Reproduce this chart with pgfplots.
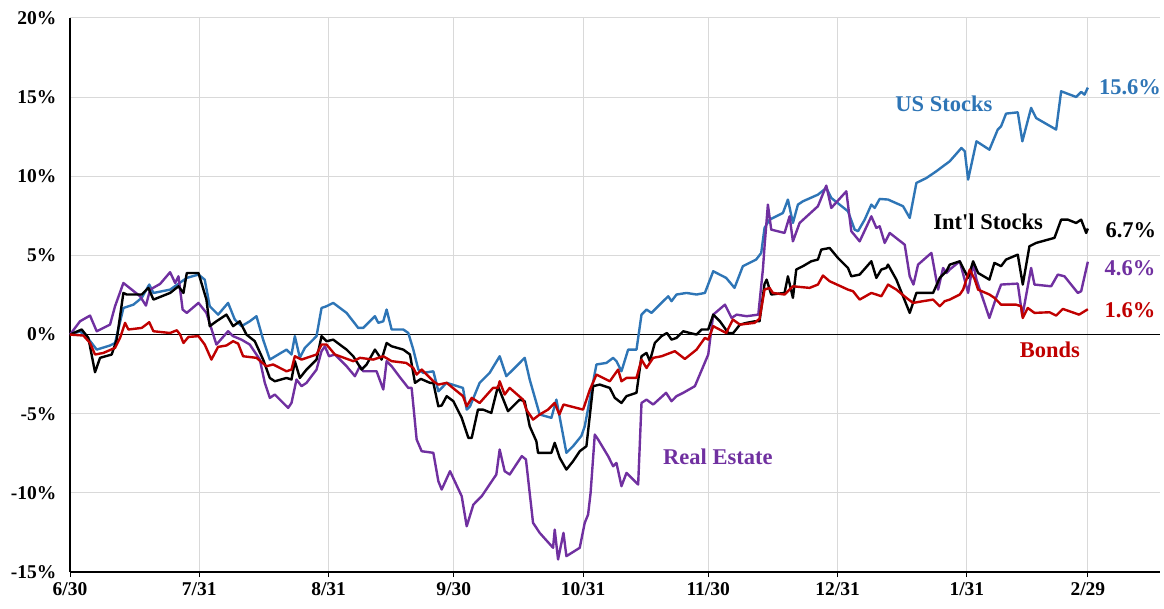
\documentclass[border=0pt]{standalone}
\usepackage{pgfplots}
\pgfplotsset{compat=1.18}
\usepackage{fontspec}
\setmainfont{Liberation Serif}[Ligatures=TeXOff]
\definecolor{usblue}{RGB}{46,117,182}
\definecolor{bondred}{RGB}{192,0,0}
\definecolor{repurple}{RGB}{112,48,160}
\definecolor{gridgray}{RGB}{217,217,217}
\newcommand{\tl}[1]{\mbox{\fontsize{19.5}{22}\selectfont\bfseries #1}}
\begin{document}
\begin{tikzpicture}
\begin{axis}[
  name=main, scale only axis, width=1090pt, height=554pt,
  xmin=0, xmax=261.3, ymin=-15, ymax=20,
  axis x line*=bottom, axis y line*=left,
  axis line style={line width=2pt, black},
  /pgf/number format/assume math mode=true,
  xtick={0,31,62,92,123,153,184,215,244},
  xticklabels={\tl{6/30},\tl{7/31},\tl{8/31},\tl{9/30},\tl{10/31},\tl{11/30},\tl{12/31},\tl{1/31},\tl{2/29}},
  ytick={-15,-10,-5,0,5,10,15,20},
  yticklabels={\tl{-15\%},\tl{-10\%},\tl{-5\%},\tl{0\%},\tl{5\%},\tl{10\%},\tl{15\%},\tl{20\%}},
  grid=major, major grid style={gridgray, line width=1pt},
  major tick length=5pt, tick align=outside,
  xtick style={black, line width=0.8pt},
  ytick style={draw=none},
  xticklabel style={yshift=-2pt},
  yticklabel style={xshift=-5pt},
  line join=round,
  every axis plot/.append style={line width=2.4pt, mark=none},
  clip=false,
]
\draw[black, line width=1.5pt] (axis cs:0,0) -- (axis cs:261.3,0);
% US Stocks
\addplot[usblue] coordinates {
(0,0) (2.4,0.21) (4.8,-0.4) (6.4,-0.95) (9.6,-0.69) (10.8,-0.53) (12.8,1.68) (15.2,1.89) (17.2,2.32) (19.0,3.16) (20.0,2.63) (24.0,2.84) (28.0,3.58) (30.8,3.79) (32.3,3.47) (33.5,1.79) (35.5,1.26) (37.9,2.0) (39.5,0.95) (41.1,0.53) (43.1,0.84) (44.7,1.16) (46.3,-0.32) (47.9,-1.58) (51.9,-0.95) (53.1,-1.26) (53.9,-0.1) (55.1,-1.47) (56.3,-0.84) (59.1,-0.1) (60.3,1.68) (61.5,1.79) (63.1,2.0) (66.3,1.37) (69.1,0.42) (70.3,0.42) (73.1,1.16) (73.9,0.74) (75.1,0.84) (75.9,1.58) (77.1,0.32) (79.9,0.32) (81.1,0.1) (82.3,-0.95) (83.5,-2.21) (84.7,-2.42) (87.1,-2.32) (88.3,-3.58) (90.3,-3.05) (94.2,-3.37) (95.1,-4.74) (95.9,-4.53) (98.2,-3.05) (100.6,-2.42) (103.0,-1.37) (104.6,-2.63) (107.0,-2.0) (109.0,-1.47) (110.2,-2.84) (112.6,-5.05) (115.4,-5.26) (116.6,-4.11) (119.0,-7.47) (120.6,-7.05) (122.6,-6.4) (123.4,-5.79) (124.6,-4.11) (126.2,-1.89) (128.6,-1.79) (130.2,-1.47) (131.0,-1.68) (132.2,-2.32) (133.8,-0.95) (135.8,-0.95) (137.0,1.26) (138.2,1.58) (139.4,1.37) (141.8,2.0) (143.4,2.42) (144.2,2.11) (145.4,2.53) (147.8,2.63) (150.2,2.53) (152.2,2.63) (154.2,4.0) (157.3,3.58) (159.3,2.95) (161.3,4.32) (164.5,4.74) (165.7,5.16) (166.5,6.74) (167.7,7.26) (170.9,7.68) (172.1,8.53) (173.3,7.05) (174.5,8.21) (175.7,8.42) (179.3,8.84) (181.3,9.26) (182.5,8.63) (186.5,7.79) (188.1,6.63) (188.9,6.53) (190.5,7.26) (192.1,8.21) (192.9,8.0) (194.1,8.57) (196.1,8.53) (199.7,8.11) (201.3,7.37) (202.9,9.58) (205.3,9.89) (207.7,10.32) (210.9,10.95) (213.7,11.79) (214.5,11.58) (215.3,9.79) (217.3,12.21) (220.4,11.68) (222.4,12.95) (223.2,13.16) (224.4,13.96) (227.2,14.04) (228.3,12.21) (230.4,14.32) (231.6,13.68) (236.4,12.95) (237.6,15.37) (241.2,15.01) (242.4,15.33) (243.2,15.16) (244,15.6)
};
% Real Estate
\addplot[repurple] coordinates {
(0,0) (2.4,0.84) (4.8,1.2) (6.4,0.21) (9.6,0.63) (10.8,1.79) (12.8,3.26) (16.8,2.42) (18.2,1.83) (19.2,2.84) (21.6,3.2) (24.0,3.94) (25.2,3.26) (26.0,3.68) (27.0,1.58) (28.0,1.37) (30.8,2.0) (32.7,1.37) (35.1,-0.63) (37.9,0.21) (39.1,-0.1) (41.1,-0.32) (43.1,-0.63) (45.5,-1.58) (46.7,-3.05) (47.9,-4.0) (49.1,-3.79) (52.3,-4.63) (53.1,-4.32) (54.3,-2.84) (55.5,-3.26) (56.7,-3.05) (59.1,-2.21) (60.3,-1.05) (61.1,-0.74) (62.1,-1.37) (63.5,-1.26) (66.3,-2.0) (68.3,-2.63) (69.5,-2.0) (70.3,-2.32) (73.5,-2.32) (75.1,-3.47) (75.9,-1.68) (77.1,-2.0) (79.1,-2.7) (81.1,-3.37) (81.9,-3.37) (83.1,-6.63) (84.3,-7.37) (87.1,-7.47) (88.3,-9.26) (89.1,-9.79) (91.1,-8.63) (93.9,-10.21) (95.1,-12.11) (96.7,-10.74) (98.7,-10.21) (102.2,-8.84) (103.0,-7.26) (104.2,-8.63) (105.4,-8.84) (108.3,-7.68) (109.3,-7.89) (111.0,-11.89) (112.6,-12.53) (115.8,-13.47) (116.2,-12.32) (117.0,-14.21) (118.3,-12.53) (119.0,-14.0) (122.2,-13.47) (123.4,-11.89) (124.2,-11.37) (124.8,-10.0) (125.8,-6.32) (126.6,-6.63) (129.0,-7.68) (130.2,-8.32) (131.0,-8.11) (132.2,-9.58) (133.4,-8.74) (136.2,-9.47) (137.0,-4.32) (138.2,-4.11) (139.8,-4.42) (142.9,-3.68) (144.2,-4.21) (145.4,-3.89) (147.0,-3.68) (149.8,-3.26) (153.0,-1.26) (154.2,1.26) (157.0,1.89) (158.6,1.05) (159.8,1.26) (162.2,1.16) (165.0,1.26) (166.1,4.11) (166.5,5.58) (167.3,8.21) (168.1,6.63) (171.3,6.42) (172.5,7.47) (173.3,5.89) (174.9,7.05) (179.3,8.11) (181.3,9.41) (182.5,8.0) (186.1,9.05) (187.3,6.53) (189.3,5.89) (192.1,7.47) (193.3,6.74) (194.1,6.84) (195.3,5.79) (196.5,6.42) (200.1,5.68) (201.3,3.68) (202.2,3.16) (203.3,4.42) (206.5,5.16) (208.1,2.84) (209.3,4.21) (210.1,3.89) (210.9,4.11) (213.3,4.63) (215.3,2.63) (216.5,4.53) (217.3,3.47) (220.4,1.05) (222.0,2.32) (223.2,3.16) (227.2,3.22) (228.3,1.16) (230.4,4.21) (231.2,3.16) (235.2,3.05) (236.8,3.79) (238.4,3.68) (241.6,2.63) (242.4,2.74) (244,4.6)
};
% Int'l Stocks
\addplot[black] coordinates {
(0,0) (2.8,0.32) (4.4,-0.21) (6.0,-2.38) (7.2,-1.47) (10.0,-1.26) (11.2,-0.32) (12.8,2.63) (13.6,2.53) (17.2,2.53) (18.8,2.95) (20.0,2.21) (24.0,2.63) (26.0,3.05) (27.2,2.63) (28.0,3.89) (30.8,3.89) (32.7,2.21) (33.5,0.53) (35.1,0.84) (37.5,1.26) (39.1,0.53) (40.7,0.84) (42.3,0) (44.3,-0.42) (46.3,-1.58) (47.9,-2.74) (49.1,-2.95) (51.9,-2.74) (53.1,-2.84) (53.9,-1.68) (55.1,-2.74) (56.7,-2.21) (59.1,-1.58) (60.3,-0.1) (61.5,-0.42) (63.1,-0.32) (66.3,-0.95) (67.9,-1.37) (69.9,-2.21) (71.1,-1.89) (73.1,-0.95) (74.7,-1.58) (75.9,-0.53) (77.1,-0.74) (79.9,-0.95) (81.5,-1.26) (82.7,-3.05) (84.1,-2.8) (86.3,-3.05) (87.1,-3.05) (88.3,-4.53) (89.1,-4.48) (90.3,-3.89) (91.9,-4.21) (93.9,-5.26) (95.5,-6.53) (96.3,-6.53) (97.8,-4.74) (99.0,-4.74) (101.0,-4.95) (102.6,-3.26) (105.0,-4.84) (107.8,-4.11) (109.0,-4.21) (110.2,-5.79) (111.8,-6.74) (112.2,-7.47) (115.4,-7.47) (116.2,-6.84) (117.4,-7.79) (119.0,-8.53) (120.6,-8.0) (122.2,-7.37) (123.8,-7.05) (125.4,-3.26) (127.0,-3.16) (129.4,-3.37) (130.6,-4.0) (132.2,-4.32) (133.4,-3.89) (135.8,-3.68) (137.0,-1.37) (138.2,-1.16) (139.0,-1.68) (140.2,-0.53) (141.8,-0.1) (143.1,0.1) (144.2,-0.32) (145.4,-0.21) (147.0,0.21) (148.6,0.1) (150.2,0) (151.4,0.32) (153.0,0.32) (154.2,1.26) (155.8,0.84) (157.8,0.1) (159.0,0.1) (160.6,0.63) (162.2,0.74) (164.2,0.84) (165.3,0.84) (166.5,3.2) (167.0,3.47) (168.1,2.53) (171.3,2.63) (172.1,3.68) (173.3,2.32) (174.1,4.11) (175.7,4.32) (177.7,4.63) (179.3,4.74) (180.1,5.37) (182.1,5.47) (184.1,4.84) (186.5,4.21) (187.3,3.68) (189.3,3.79) (192.1,4.63) (193.3,3.58) (194.5,4.11) (195.7,4.21) (196.1,4.42) (198.1,3.47) (201.3,1.37) (202.9,2.63) (206.9,2.63) (208.5,3.58) (210.1,4.0) (210.9,4.42) (213.3,4.63) (215.3,3.58) (216.5,4.63) (217.7,3.89) (220.4,3.47) (221.6,4.53) (223.2,4.32) (224.4,4.74) (227.2,5.05) (228.4,3.16) (230.0,5.58) (231.6,5.79) (236.0,6.11) (237.6,7.26) (239.2,7.26) (241.2,7.05) (242.4,7.26) (243.6,6.42) (244,6.7)
};
% Bonds
\addplot[bondred] coordinates {
(0,0) (3.2,-0.06) (4.8,-0.53) (6.0,-1.26) (8.0,-1.16) (10.8,-0.84) (12.0,-0.21) (13.2,0.74) (14.0,0.32) (17.2,0.42) (19.0,0.78) (20.0,0.21) (24.0,0.1) (25.6,0.27) (26.4,0) (27.2,-0.53) (28.4,-0.15) (30.8,-0.1) (32.3,-0.63) (33.9,-1.58) (35.5,-0.78) (37.5,-0.69) (39.1,-0.42) (40.3,-0.57) (41.5,-1.37) (44.7,-1.47) (47.1,-2.0) (48.7,-1.89) (51.9,-2.32) (53.1,-2.21) (53.9,-1.37) (55.5,-1.58) (59.1,-1.26) (60.3,-0.63) (61.5,-0.63) (63.5,-1.26) (67.9,-1.68) (69.5,-1.47) (72.7,-1.58) (75.1,-1.37) (77.1,-1.68) (80.6,-1.79) (82.3,-2.11) (83.1,-2.53) (84.3,-2.21) (86.3,-2.74) (87.1,-2.95) (88.3,-3.16) (90.3,-3.05) (94.2,-3.89) (95.1,-4.53) (96.3,-4.0) (98.2,-4.32) (101.4,-3.37) (102.6,-3.37) (103.0,-2.95) (104.2,-3.79) (105.4,-3.37) (108.6,-4.11) (109.4,-4.74) (111.0,-5.37) (112.6,-5.05) (114.6,-4.74) (116.2,-4.32) (117.3,-5.05) (118.3,-4.42) (123.0,-4.74) (124.6,-3.5) (126.2,-2.53) (129.4,-2.95) (131.4,-2.21) (132.2,-2.95) (133.4,-2.74) (135.8,-2.74) (137.0,-1.58) (138.2,-2.11) (139.8,-1.47) (141.8,-1.37) (145.0,-1.05) (147.4,-1.54) (150.2,-0.95) (152.2,-0.21) (153.0,-0.32) (154.2,0.53) (157.3,0.1) (158.9,0.95) (160.6,0.63) (164.1,0.74) (165.3,1.0) (166.5,2.84) (167.7,2.95) (168.5,2.63) (171.3,2.53) (173.3,3.05) (177.3,2.95) (179.3,3.16) (180.5,3.73) (182.1,3.37) (186.5,2.84) (187.7,2.74) (189.3,2.21) (192.1,2.63) (193.3,2.53) (194.5,2.42) (196.1,3.16) (198.1,2.84) (200.5,2.32) (202.1,2.0) (204.5,2.11) (206.9,2.21) (208.5,1.79) (209.7,2.11) (210.9,2.21) (213.3,2.53) (214.1,2.84) (215.7,4.11) (216.9,3.47) (217.7,2.84) (220.4,2.53) (221.6,2.32) (223.2,1.89) (226.8,1.89) (228.0,1.79) (228.4,1.05) (229.6,1.68) (231.2,1.37) (234.8,1.41) (236.4,1.2) (238.0,1.62) (241.9,1.26) (244,1.6)
};
\tikzset{lbl/.style={font=\fontsize{22.5}{26}\selectfont\bfseries, inner sep=0pt}}
\node[lbl, text=usblue] at (axis cs:209.5,14.55) {US Stocks};
\node[lbl, text=usblue] at (axis cs:254.1,15.6) {15.6\%};
\node[lbl, text=black] at (axis cs:220.1,7.1) {Int'l Stocks};
\node[lbl, text=black] at (axis cs:254.3,6.6) {6.7\%};
\node[lbl, text=repurple] at (axis cs:254.1,4.2) {4.6\%};
\node[lbl, text=bondred] at (axis cs:254.1,1.55) {1.6\%};
\node[lbl, text=bondred] at (axis cs:234.9,-0.95) {Bonds};
\node[lbl, text=repurple] at (axis cs:155.3,-7.7) {Real Estate};
\end{axis}
\pgfresetboundingbox
\path[use as bounding box] ([xshift=-70pt,yshift=-36pt]main.south west) rectangle ([xshift=4pt,yshift=18pt]main.north east);
\end{tikzpicture}
\end{document}
